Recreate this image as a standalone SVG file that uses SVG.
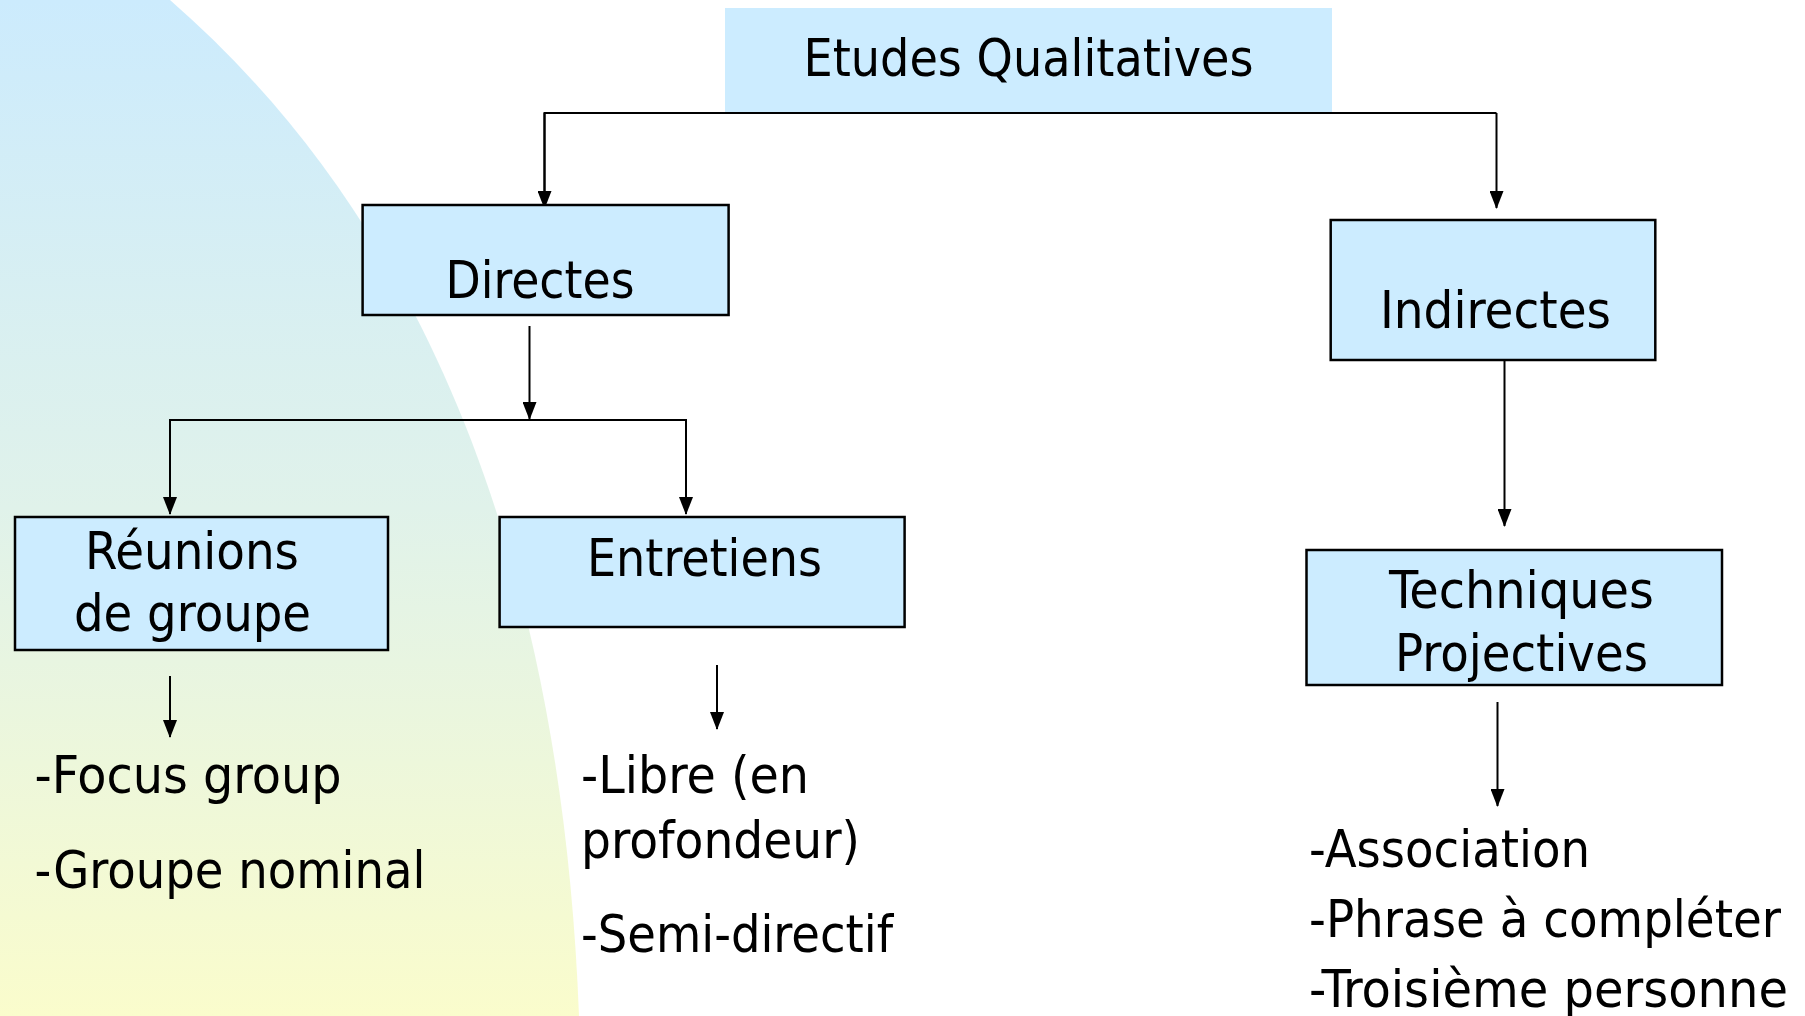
<svg xmlns="http://www.w3.org/2000/svg" width="1805" height="1016" viewBox="0 0 1805 1016">
<defs>
<linearGradient id="bg" x1="0" y1="0" x2="0" y2="1">
<stop offset="0" stop-color="#CCEBFD"/>
<stop offset="0.5" stop-color="#E0F2EA"/>
<stop offset="1" stop-color="#FAFCCC"/>
</linearGradient>
<marker id="ah" markerUnits="userSpaceOnUse" markerWidth="14" markerHeight="18" viewBox="0 0 14 18" refX="7" refY="17" orient="0">
<path d="M0,0 L14,0 L7,18 Z" fill="#000"/>
</marker>
<style>
.box{fill:#CCECFF;stroke:#000;stroke-width:2.5}
.t{font-family:"DejaVu Sans Condensed","DejaVu Sans",Tahoma,sans-serif;font-size:52px;fill:#000}
.c{fill:none;stroke:#000;stroke-width:2}
</style>
</defs>
<rect width="1805" height="1016" fill="#fff"/>
<path d="M0,0 L170,0 C400,200 560,520 579,1016 L0,1016 Z" fill="url(#bg)"/>

<g id="connectors">
<path class="c" d="M544.5,208 V113 H1496.5"/>
<path class="c" d="M544.5,113 V208" marker-end="url(#ah)"/>
<path class="c" d="M1496.5,113 V208" marker-end="url(#ah)"/>
<path class="c" d="M529.5,326 V419" marker-end="url(#ah)"/>
<path class="c" d="M170,514 V420 H686 V514"/>
<path class="c" d="M170,420 V514" marker-end="url(#ah)"/>
<path class="c" d="M686,420 V514" marker-end="url(#ah)"/>
<path class="c" d="M170,676 V737" marker-end="url(#ah)"/>
<path class="c" d="M717,665 V729" marker-end="url(#ah)"/>
<path class="c" d="M1504.5,357 V526" marker-end="url(#ah)"/>
<path class="c" d="M1497.5,702 V806" marker-end="url(#ah)"/>
</g>

<g id="etudes">
<rect x="725" y="8" width="607" height="104" fill="#CCECFF"/>
<text class="t" x="803.5" y="76" textLength="450" lengthAdjust="spacingAndGlyphs">Etudes Qualitatives</text>
</g>
<g id="directes">
<rect class="box" x="362.6" y="205" width="366" height="110"/>
<text class="t" x="445.5" y="298" textLength="189" lengthAdjust="spacingAndGlyphs">Directes</text>
</g>
<g id="indirectes">
<rect class="box" x="1330.7" y="220" width="324.6" height="140"/>
<text class="t" x="1380" y="328" textLength="231" lengthAdjust="spacingAndGlyphs">Indirectes</text>
</g>
<g id="reunions">
<rect class="box" x="15" y="517" width="373" height="133"/>
<text class="t" x="85" y="569" textLength="214" lengthAdjust="spacingAndGlyphs">Réunions</text>
<text class="t" x="74" y="631" textLength="237" lengthAdjust="spacingAndGlyphs">de groupe</text>
</g>
<g id="entretiens">
<rect class="box" x="499.6" y="517" width="405" height="110"/>
<text class="t" x="587" y="575.6" textLength="235" lengthAdjust="spacingAndGlyphs">Entretiens</text>
</g>
<g id="techniques">
<rect class="box" x="1306.5" y="550" width="415.5" height="135"/>
<text class="t" x="1389" y="608" textLength="265" lengthAdjust="spacingAndGlyphs">Techniques</text>
<text class="t" x="1395" y="671" textLength="253" lengthAdjust="spacingAndGlyphs">Projectives</text>
</g>
<g id="list-reunions">
<text class="t" x="34.5" y="793" textLength="307" lengthAdjust="spacingAndGlyphs">-Focus group</text>
<text class="t" x="34.5" y="887.5" textLength="391" lengthAdjust="spacingAndGlyphs">-Groupe nominal</text>
</g>
<g id="list-entretiens">
<text class="t" x="581" y="793" textLength="228" lengthAdjust="spacingAndGlyphs">-Libre (en</text>
<text class="t" x="581" y="857.6" textLength="279" lengthAdjust="spacingAndGlyphs">profondeur)</text>
<text class="t" x="581" y="952" textLength="312" lengthAdjust="spacingAndGlyphs">-Semi-directif</text>
</g>
<g id="list-techniques">
<text class="t" x="1309" y="867" textLength="281" lengthAdjust="spacingAndGlyphs">-Association</text>
<text class="t" x="1309" y="937" textLength="472" lengthAdjust="spacingAndGlyphs">-Phrase à compléter</text>
<text class="t" x="1309" y="1007" textLength="479" lengthAdjust="spacingAndGlyphs">-Troisième personne</text>
</g>
</svg>
